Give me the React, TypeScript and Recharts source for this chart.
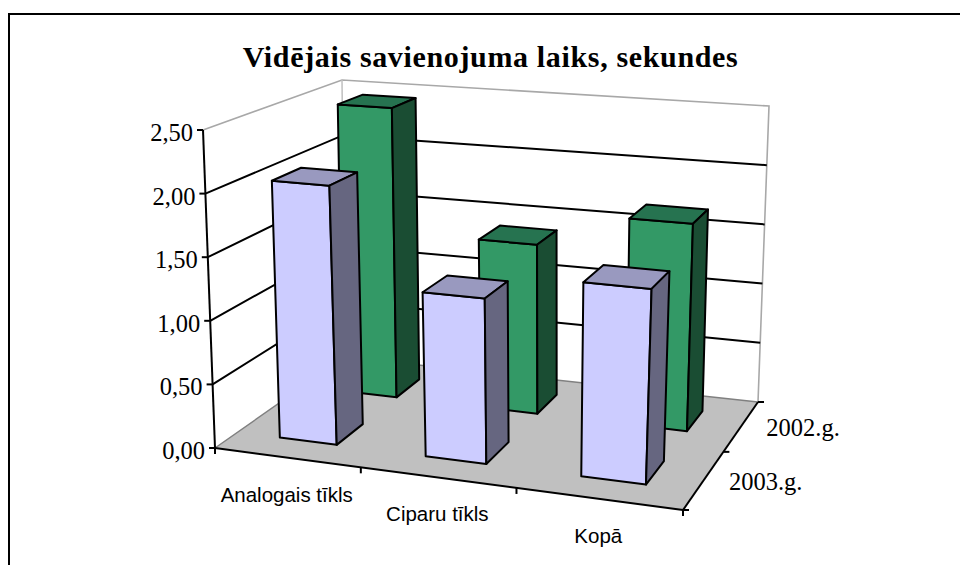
import React from 'react';
import { BarChart, Bar, XAxis, YAxis, Customized } from 'recharts';

const categories = ['Analogais tīkls', 'Ciparu tīkls', 'Kopā'];
const values2003 = [2.05, 1.28, 1.48];
const values2002 = [2.45, 1.4, 1.68];
const yTicks = [0, 0.5, 1, 1.5, 2, 2.5];
const depthLabels = ['2003.g.', '2002.g.'];
const chartTitle = 'Vidējais savienojuma laiks, sekundes';

const data = categories.map((name, i) => ({ name, y2003: values2003[i], y2002: values2002[i] }));

type Pt = [number, number];

// flat plot rectangle; bars come out of the recharts scales in here and get projected
const PLOT = { left: 215, top: 130, width: 468, height: 318 };
const Y_MAX = 2.5;
const BAR_SIZE = 62;

// walls/floor corners: front-left, front-right, back-right, back-left
const FLOOR: Pt[] = [[215, 448], [683, 510], [758, 402], [345, 357]];
const CEIL: Pt[] = [[203, 130], [698, 170], [769, 106], [342, 80]];

const homography = (q: Pt[]) => {
  const [[x0, y0], [x1, y1], [x2, y2], [x3, y3]] = q;
  const sx = x0 - x1 + x2 - x3;
  const sy = y0 - y1 + y2 - y3;
  const dx1 = x1 - x2;
  const dx2 = x3 - x2;
  const dy1 = y1 - y2;
  const dy2 = y3 - y2;
  const den = dx1 * dy2 - dx2 * dy1;
  const g = (sx * dy2 - dx2 * sy) / den;
  const h = (dx1 * sy - sx * dy1) / den;
  return (u: number, w: number): Pt => {
    const d = 1 + g * u + h * w;
    return [
      (x0 + (x1 - x0 + g * x1) * u + (x3 - x0 + h * x3) * w) / d,
      (y0 + (y1 - y0 + g * y1) * u + (y3 - y0 + h * y3) * w) / d,
    ];
  };
};

const floorAt = homography(FLOOR);
const ceilAt = homography(CEIL);

// u along categories, v share of the value axis, w depth (0 front, 1 back)
const project = (u: number, v: number, w: number): Pt => {
  const a = floorAt(u, w);
  const b = ceilAt(u, w);
  return [a[0] + (b[0] - a[0]) * v, a[1] + (b[1] - a[1]) * v];
};

const pts = (list: Pt[]) => list.map((p) => p.join(',')).join(' ');

const LINE = 2;

const makeBar = (w0: number, w1: number, front: string, top: string, side: string) => (props: any) => {
  const { x, y, width, height } = props;
  const u0 = (x - PLOT.left) / PLOT.width;
  const u1 = (x + width - PLOT.left) / PLOT.width;
  const v = (PLOT.top + PLOT.height - y) / PLOT.height;
  if (!height) return null;
  const faces = { stroke: '#000', strokeWidth: LINE, strokeLinejoin: 'round' as const };
  return (
    <g>
      <polygon
        points={pts([project(u0, 0, w0), project(u1, 0, w0), project(u1, v, w0), project(u0, v, w0)])}
        fill={front}
        {...faces}
      />
      <polygon
        points={pts([project(u0, v, w0), project(u1, v, w0), project(u1, v, w1), project(u0, v, w1)])}
        fill={top}
        {...faces}
      />
      <polygon
        points={pts([project(u1, 0, w0), project(u1, 0, w1), project(u1, v, w1), project(u1, v, w0)])}
        fill={side}
        {...faces}
      />
    </g>
  );
};

const FrontBar = makeBar(0.155, 0.36, '#CCCCFF', '#9999BF', '#666680');
const BackBar = makeBar(0.645, 0.85, '#339966', '#267350', '#1A4D33');

const Walls = () => {
  const inner = yTicks.slice(1, -1);
  const uTicks = categories.map((_, i) => i / categories.length).concat(1);
  return (
    <g>
      <line x1={8} y1={14} x2={960} y2={14} stroke="#000" strokeWidth={2} />
      <line x1={9} y1={13} x2={9} y2={565} stroke="#000" strokeWidth={2} />
      <text x={490.5} y={67} textAnchor="middle" fontFamily="Liberation Serif" fontWeight="bold" fontSize={30} letterSpacing={0.65}>
        {chartTitle}
      </text>
      <polygon points={pts(FLOOR)} fill="#C0C0C0" />
      <polyline
        points={pts([project(0, 0, 0), project(0, 0, 1), project(1, 0, 1)])}
        fill="none"
        stroke="#808080"
        strokeWidth={1.5}
      />
      <polyline
        points={pts([project(0, 1, 0), project(0, 1, 1), project(1, 1, 1), project(1, 0, 1)])}
        fill="none"
        stroke="#A8A8A8"
        strokeWidth={1.6}
      />
      <line x1={project(0, 1, 1)[0]} y1={project(0, 1, 1)[1]} x2={project(0, 0, 1)[0]} y2={project(0, 0, 1)[1]} stroke="#C0C0C0" strokeWidth={1.5} />
      {inner.map((t) => (
        <polyline
          key={t}
          points={pts([project(0, t / Y_MAX, 0), project(0, t / Y_MAX, 1), project(1, t / Y_MAX, 1)])}
          fill="none"
          stroke="#000"
          strokeWidth={LINE}
        />
      ))}
      <line x1={project(0, 0, 0)[0]} y1={project(0, 0, 0)[1]} x2={project(0, 1, 0)[0]} y2={project(0, 1, 0)[1]} stroke="#000" strokeWidth={LINE} />
      <line x1={project(0, 0, 0)[0]} y1={project(0, 0, 0)[1]} x2={project(1, 0, 0)[0]} y2={project(1, 0, 0)[1]} stroke="#000" strokeWidth={LINE} />
      <line x1={project(1, 0, 0)[0]} y1={project(1, 0, 0)[1]} x2={project(1, 0, 1)[0]} y2={project(1, 0, 1)[1]} stroke="#000" strokeWidth={LINE} />
      {uTicks.map((u) => {
        const p = project(u, 0, 0);
        return <line key={u} x1={p[0]} y1={p[1]} x2={p[0]} y2={p[1] + 6} stroke="#000" strokeWidth={LINE} />;
      })}
      {[0, 0.5, 1].map((w) => {
        const p = project(1, 0, w);
        return <line key={w} x1={p[0]} y1={p[1]} x2={p[0] + 6} y2={p[1]} stroke="#000" strokeWidth={LINE} />;
      })}
      {depthLabels.map((label, i) => {
        const p = project(1, 0, (i + 0.5) / depthLabels.length);
        return (
          <text key={label} x={p[0] + 25} y={p[1] + 10} fontFamily="Liberation Serif" fontSize={24.5} fill="#000">
            {label}
          </text>
        );
      })}
    </g>
  );
};

const ValueTick = (props: any) => {
  const { payload } = props;
  const p = project(0, payload.value / Y_MAX, 0);
  return (
    <g>
      <line x1={p[0] - 6} y1={p[1]} x2={p[0]} y2={p[1]} stroke="#000" strokeWidth={LINE} />
      <text x={p[0] - 10} y={p[1] + 11} textAnchor="end" fontFamily="Liberation Serif" fontSize={24.5} fill="#000">
        {payload.value.toFixed(2).replace('.', ',')}
      </text>
    </g>
  );
};

const CategoryTick = (props: any) => {
  const { x, payload } = props;
  const p = project((x - PLOT.left) / PLOT.width, 0, 0);
  return (
    <text x={p[0]} y={p[1] + 44} textAnchor="middle" fontFamily="Liberation Sans" fontSize={20.5} fill="#000">
      {payload.value}
    </text>
  );
};

export default function App() {
  return (
    <div style={{ position: 'absolute', left: 0, top: 0, width: 960, height: 565, background: '#fff' }}>
      <BarChart
        width={960}
        height={565}
        data={data}
        barSize={BAR_SIZE}
        barGap={-BAR_SIZE}
        margin={{ left: PLOT.left - 1, top: PLOT.top, right: 960 - PLOT.left - PLOT.width, bottom: 565 - PLOT.top - PLOT.height - 1 }}
      >
        <Customized component={Walls} />
        <XAxis dataKey="name" height={1} axisLine={false} tickLine={false} tick={CategoryTick} interval={0} />
        <YAxis width={1} domain={[0, Y_MAX]} ticks={yTicks} axisLine={false} tickLine={false} tick={ValueTick} interval={0} />
        <Bar dataKey="y2002" shape={BackBar} isAnimationActive={false} />
        <Bar dataKey="y2003" shape={FrontBar} isAnimationActive={false} />
      </BarChart>
    </div>
  );
}
